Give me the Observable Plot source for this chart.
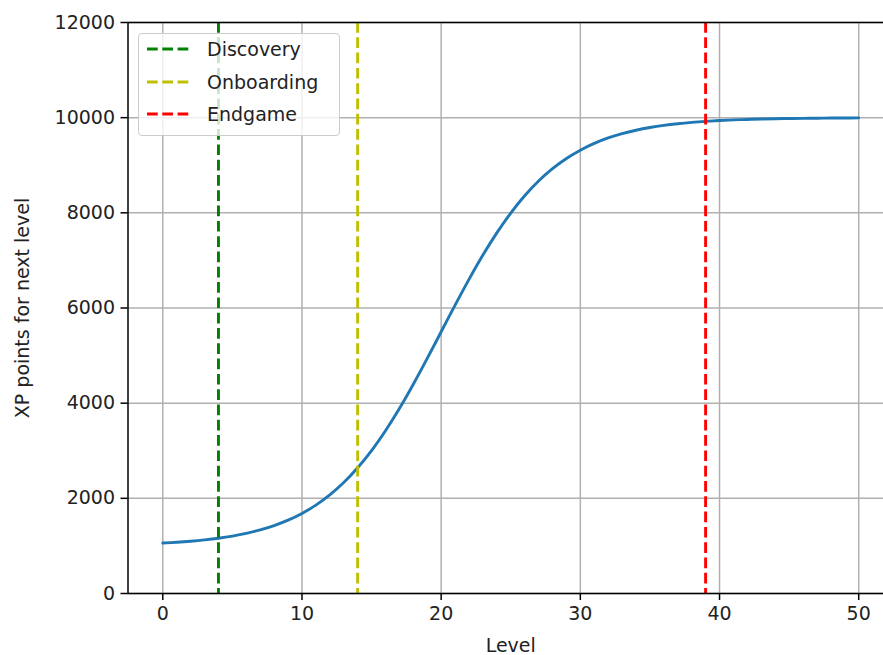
<!DOCTYPE html>
<html>
<head>
<meta charset="utf-8">
<script src="https://cdn.jsdelivr.net/npm/d3@7"></script>
<script src="https://cdn.jsdelivr.net/npm/@observablehq/plot@0.6"></script>
<style>
  html, body { margin: 0; padding: 0; background: #fff; overflow: hidden; }
  #wrap { position: relative; width: 883px; height: 655px; overflow: hidden; }
  #wrap > svg { max-width: none !important; display: block; }
  #legend {
    position: absolute; left: 138px; top: 33px; width: 200px; height: 101px;
    background: rgba(255,255,255,0.8); border: 1.5px solid #cccccc; border-radius: 4px;
    font-family: "DejaVu Sans", sans-serif; font-size: 19px; color: #222;
  }
  .row { position: absolute; left: 0; height: 24px; display: flex; align-items: center; }
  .row svg { margin-left: 8px; }
  .row span { margin-left: 18px; }
</style>
</head>
<body>
<div id="wrap"><div id="legend"></div></div>
<script>
const levels = [0,1,2,3,4,5,6,7,8,9,10,11,12,13,14,15,16,17,18,19,20,21,22,23,24,25,26,27,28,29,30,31,32,33,34,35,36,37,38,39,40,41,42,43,44,45,46,47,48,49,50];
const xpPoints = [1060,1077,1099,1127,1162,1207,1264,1336,1427,1541,1683,1858,2073,2332,2642,3004,3421,3887,4398,4940,5500,6060,6602,7113,7579,7996,8358,8668,8927,9142,9317,9459,9573,9664,9736,9793,9838,9873,9901,9923,9940,9953,9963,9971,9978,9983,9986,9989,9992,9994,9995];
const milestoneNames = ["Discovery", "Onboarding", "Endgame"];
const milestoneLevels = [4, 14, 39];
const xTicks = [0, 10, 20, 30, 40, 50];
const yTicks = [0, 2000, 4000, 6000, 8000, 10000, 12000];

const milestoneColors = {Discovery: "#008000", Onboarding: "#bfbf00", Endgame: "#ff0000"};
const curveData = levels.map((l, i) => ({level: l, xp: xpPoints[i]}));
const milestones = milestoneNames.map((n, i) => ({name: n, level: milestoneLevels[i]}));

const chart = Plot.plot({
  width: 893,
  height: 655,
  marginLeft: 127.5,
  marginRight: 0,
  marginTop: 22,
  marginBottom: 62,
  style: {fontFamily: "DejaVu Sans, sans-serif", fontSize: "19px", color: "#222", background: "white", overflow: "visible", maxWidth: "none"},
  x: {domain: [-2.5, 52.5]},
  y: {domain: [0, 12000]},
  marks: [
    Plot.gridX(xTicks, {stroke: "#b0b0b0", strokeOpacity: 1, strokeWidth: 1.5}),
    Plot.gridY(yTicks, {stroke: "#b0b0b0", strokeOpacity: 1, strokeWidth: 1.5}),
    Plot.axisX(xTicks, {tickSize: 7, tickPadding: 6, stroke: "black", strokeWidth: 1.5, tickFormat: d => String(d),
      label: "Level", labelAnchor: "center", labelArrow: "none", labelOffset: 58, fill: "#222"}),
    Plot.axisY(yTicks, {tickSize: 7, tickPadding: 6, stroke: "black", strokeWidth: 1.5, tickFormat: d => String(d),
      label: "XP points for next level", labelAnchor: "center", labelArrow: "none", labelOffset: 113, fill: "#222"}),
    Plot.line(curveData, {x: "level", y: "xp", stroke: "#1f77b4", strokeWidth: 2.9, curve: "catmull-rom"}),
    Plot.ruleX(milestones, {x: "level", stroke: d => milestoneColors[d.name], strokeWidth: 2.9, strokeDasharray: "10.7,4.6"}),
    Plot.frame({stroke: "black", strokeWidth: 1.5})
  ]
});
document.getElementById("wrap").prepend(chart);

const legend = document.getElementById("legend");
milestones.forEach((m, i) => {
  const row = document.createElement("div");
  row.className = "row";
  row.style.top = (3 + i * 32.5) + "px";
  row.innerHTML = `<svg width="42" height="6"><line x1="0" y1="3" x2="42" y2="3" stroke="${milestoneColors[m.name]}" stroke-width="2.9" stroke-dasharray="10.7,4.6"/></svg><span>${m.name}</span>`;
  legend.appendChild(row);
});
</script>
</body>
</html>
